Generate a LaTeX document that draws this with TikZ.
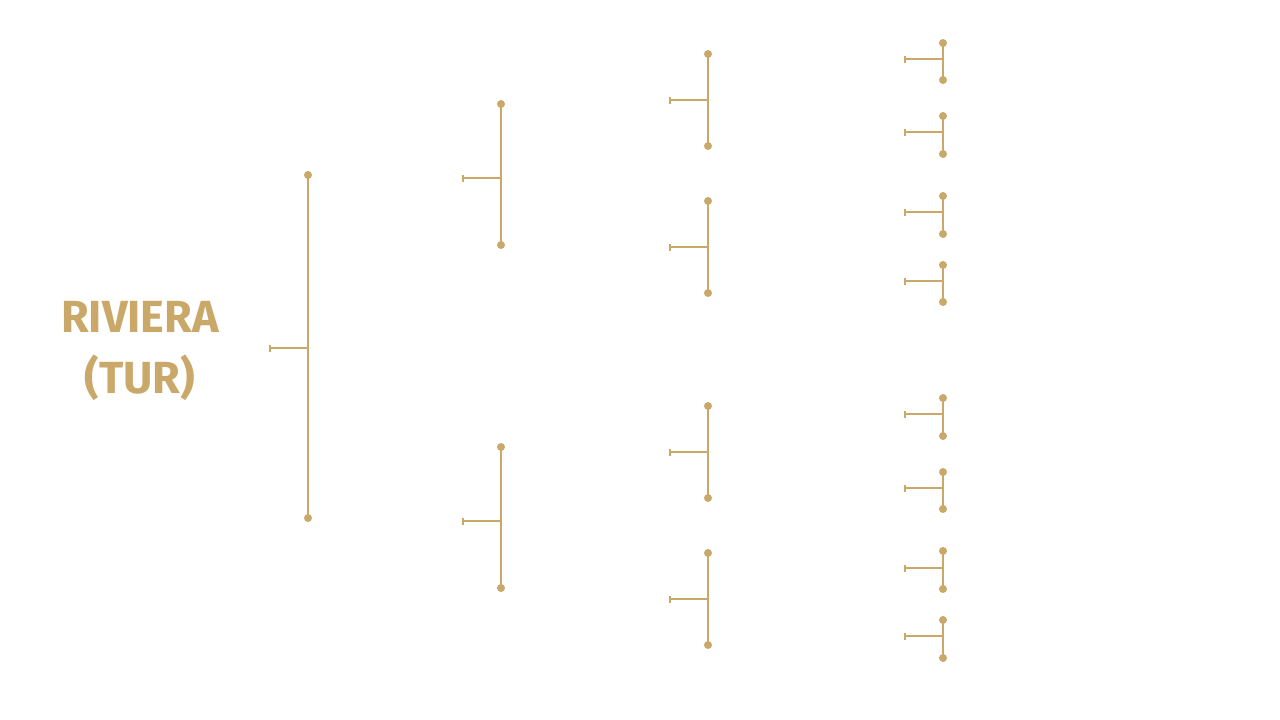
\documentclass[tikz,border=0pt]{standalone}
\usepackage{fontspec}
\setmainfont{Fira Sans}
\definecolor{gold}{HTML}{C9A86A}
\tikzset{
  bar/.style={draw=gold, line width=2pt},
  dotend/.style={circle, fill=gold, inner sep=0pt, minimum size=8pt},
  tickend/.style={draw=gold, line width=1.6pt},
  label/.style={text=gold, font=\fontsize{45}{61}\selectfont\bfseries, align=center}
}
\begin{document}
\begin{tikzpicture}[x=1pt,y=-1pt]
\useasboundingbox (0,0) rectangle (1280,720);
\node[label] (title) at (140,351) {RIVIERA\\(TUR)};
% brackets: name / x / top / bottom / stub y / stub start x
\foreach \n/\x/\t/\b/\m/\s in {
  a/308/175/518/348/270,
  b1/501/104/245/178/463, b2/501/447/588/521/463,
  c1/708/54/146/100/670, c2/708/201/293/247/670, c3/708/406/498/452/670, c4/708/553/645/599/670,
  d1/943/43/80/59/905, d2/943/116/154/132/905, d3/943/196/234/212/905, d4/943/265/302/281/905,
  d5/943/398/436/414/905, d6/943/472/509/488/905, d7/943/551/589/568/905, d8/943/620/658/636/905}
{
  \node[dotend] (\n t) at (\x,\t) {};
  \node[dotend] (\n b) at (\x,\b) {};
  \coordinate (\n m) at (\x,\m);
  \coordinate (\n s) at (\s,\m);
  \draw[bar] (\n t.center) -- (\n b.center);
  \draw[bar] (\n m) -- (\n s);
  \draw[tickend] ([yshift=-3.5pt]\n s) -- ([yshift=3.5pt]\n s);
}
\end{tikzpicture}
\end{document}
